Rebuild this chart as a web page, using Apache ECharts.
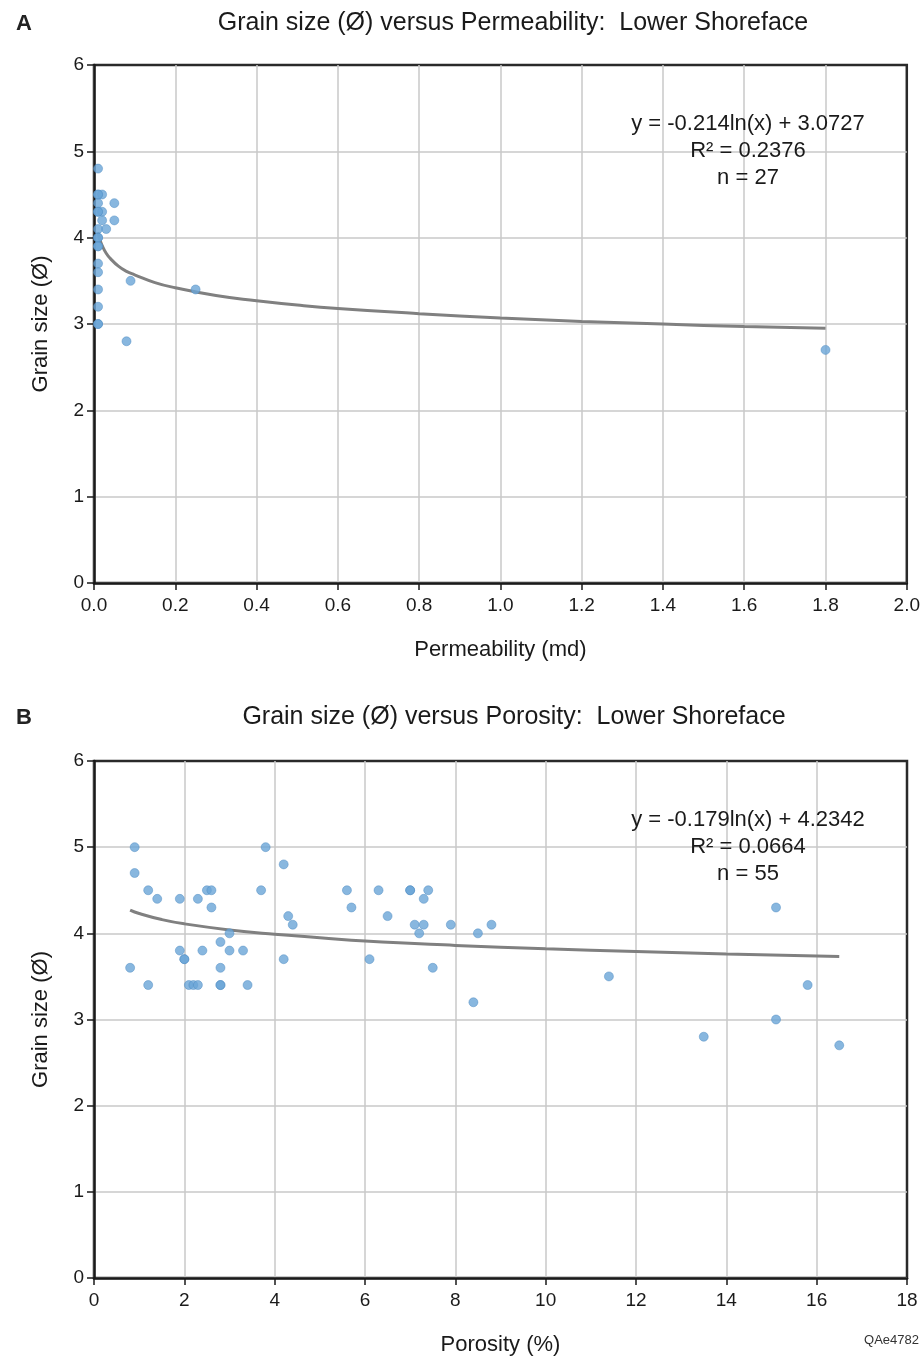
<!DOCTYPE html>
<html>
<head>
<meta charset="utf-8">
<script src="https://cdn.jsdelivr.net/npm/echarts@6/dist/echarts.min.js"></script>
<style>
  html, body { margin: 0; padding: 0; background: #fff; }
  #chart { width: 923px; height: 1357px; }
</style>
</head>
<body>
<div id="chart"></div>
<script>
// A: grain size vs permeability (md), n = 27
const permX = [0.01, 0.01, 0.02, 0.01, 0.05, 0.01, 0.02, 0.02, 0.05, 0.01, 0.03, 0.01, 0.01, 0.01, 0.01, 0.09, 0.01, 0.25, 0.01, 0.01, 0.08, 1.8, 0.01, 0.01, 0.01, 0.01, 0.01]
const permY = [4.8, 4.5, 4.5, 4.4, 4.4, 4.3, 4.3, 4.2, 4.2, 4.1, 4.1, 4.0, 3.9, 3.7, 3.6, 3.5, 3.4, 3.4, 3.2, 3.0, 2.8, 2.7, 4.5, 4.3, 4.0, 3.9, 3.0]
// trendline
const permTrendX = [0.01, 0.015, 0.02, 0.03, 0.04, 0.06, 0.08, 0.1, 0.15, 0.2, 0.3, 0.4, 0.5, 0.6, 0.8, 1.0, 1.2, 1.4, 1.6, 1.8]
const permTrendY = [4.06, 3.97, 3.91, 3.82, 3.76, 3.67, 3.61, 3.57, 3.48, 3.42, 3.33, 3.27, 3.22, 3.18, 3.12, 3.07, 3.03, 3.00, 2.97, 2.95]
const permXTicks = { min: 0, max: 2, interval: 0.2 }

// B: grain size vs porosity (%), n = 55
const poroX = [0.9, 3.8, 4.2, 0.9, 1.2, 1.4, 1.9, 2.3, 2.5, 2.6, 3.7, 2.6, 4.3, 4.4, 3.0, 2.8, 1.9, 2.4, 3.0, 3.3,
  2.0, 4.2, 0.8, 2.8, 1.2, 2.1, 2.2, 2.3, 2.8, 3.4,
  5.6, 6.3, 7.0, 7.4, 7.3, 5.7, 6.5, 7.1, 7.3, 7.9, 8.8, 7.2, 8.5, 6.1, 7.5, 8.4,
  11.4, 15.1, 15.8, 15.1, 13.5, 16.5,
  2.0, 2.8, 7.0]
const poroY = [5.0, 5.0, 4.8, 4.7, 4.5, 4.4, 4.4, 4.4, 4.5, 4.5, 4.5, 4.3, 4.2, 4.1, 4.0, 3.9, 3.8, 3.8, 3.8, 3.8,
  3.7, 3.7, 3.6, 3.6, 3.4, 3.4, 3.4, 3.4, 3.4, 3.4,
  4.5, 4.5, 4.5, 4.5, 4.4, 4.3, 4.2, 4.1, 4.1, 4.1, 4.1, 4.0, 4.0, 3.7, 3.6, 3.2,
  3.5, 4.3, 3.4, 3.0, 2.8, 2.7,
  3.7, 3.4, 4.5]
const poroTrendX = [0.8, 1, 1.5, 2, 3, 4, 5, 6, 8, 10, 12, 14, 16.5]
const poroTrendY = [4.27, 4.23, 4.16, 4.11, 4.04, 3.99, 3.95, 3.91, 3.86, 3.82, 3.79, 3.76, 3.73]
const poroXTicks = { min: 0, max: 18, interval: 2 }

const yTicks = { min: 0, max: 6, interval: 1 }

const FONT = '"Liberation Sans", Arial, sans-serif'
const zip = (xs, ys) => xs.map((x, i) => [x, ys[i]])

const chart = echarts.init(document.getElementById('chart'), null, { renderer: 'canvas' })

function xAxisOf(gridIndex, ticks, name, decimals) {
  return {
    gridIndex: gridIndex,
    type: 'value',
    min: ticks.min, max: ticks.max, interval: ticks.interval,
    name: name,
    nameLocation: 'middle',
    nameGap: 56,
    nameTextStyle: { fontFamily: FONT, fontSize: 22, color: '#1a1a1a' },
    axisLine: { show: true, onZero: false, lineStyle: { color: '#1a1a1a', width: 2.5 } },
    axisTick: { show: true, length: 7, lineStyle: { color: '#1a1a1a', width: 1.5 } },
    axisLabel: {
      fontFamily: FONT, fontSize: 19, color: '#1a1a1a', margin: 13,
      formatter: v => decimals ? v.toFixed(decimals) : String(v)
    },
    splitLine: { show: true, showMaxLine: false, lineStyle: { color: '#c9c9c9', width: 1.5 } }
  }
}

function yAxisOf(gridIndex) {
  return {
    gridIndex: gridIndex,
    type: 'value',
    min: yTicks.min, max: yTicks.max, interval: yTicks.interval,
    name: 'Grain size (Ø)',
    nameLocation: 'middle',
    nameGap: 42,
    nameTextStyle: { fontFamily: FONT, fontSize: 22, color: '#1a1a1a' },
    axisLine: { show: true, onZero: false, lineStyle: { color: '#1a1a1a', width: 2.5 } },
    axisTick: { show: true, length: 7, lineStyle: { color: '#1a1a1a', width: 1.5 } },
    axisLabel: { fontFamily: FONT, fontSize: 19, color: '#1a1a1a', margin: 10 },
    splitLine: { show: true, showMaxLine: false, lineStyle: { color: '#c9c9c9', width: 1.5 } }
  }
}

const dotStyle = { color: '#6aa5d7', borderColor: '#4d8bc2', borderWidth: 0.6 }
const trendStyle = { color: '#808080', width: 3 }

function textBlock(x, y, lines) {
  return lines.map((t, i) => ({
    type: 'text',
    x: x, y: y + i * 27,
    z: 100,
    style: { text: t, fontFamily: FONT, fontSize: 22, fill: '#1a1a1a', align: 'center', verticalAlign: 'middle' }
  }))
}

const option = {
  backgroundColor: '#ffffff',
  animation: false,
  title: [
    { text: 'A', left: 11, top: 8, textStyle: { fontFamily: FONT, fontSize: 22, fontWeight: 'bold', color: '#222' } },
    { text: 'Grain size (Ø) versus Permeability:  Lower Shoreface', left: 508, top: 6, textAlign: 'center',
      textStyle: { fontFamily: FONT, fontSize: 25, fontWeight: 'normal', color: '#1a1a1a' } },
    { text: 'B', left: 11, top: 702, textStyle: { fontFamily: FONT, fontSize: 22, fontWeight: 'bold', color: '#222' } },
    { text: 'Grain size (Ø) versus Porosity:  Lower Shoreface', left: 509, top: 700, textAlign: 'center',
      textStyle: { fontFamily: FONT, fontSize: 25, fontWeight: 'normal', color: '#1a1a1a' } }
  ],
  grid: [
    { left: 94, top: 65, width: 813, height: 518, show: true, borderColor: '#2a2a2a', borderWidth: 2.5, backgroundColor: 'transparent' },
    { left: 94, top: 761, width: 813, height: 520, show: true, borderColor: '#2a2a2a', borderWidth: 2.5, backgroundColor: 'transparent' }
  ],
  xAxis: [
    xAxisOf(0, permXTicks, 'Permeability (md)', 1),
    xAxisOf(1, poroXTicks, 'Porosity (%)', 0)
  ],
  yAxis: [yAxisOf(0), yAxisOf(1)],
  series: [
    { type: 'line', xAxisIndex: 0, yAxisIndex: 0, data: zip(permTrendX, permTrendY), smooth: true,
      showSymbol: false, lineStyle: trendStyle, z: 2 },
    { type: 'scatter', xAxisIndex: 0, yAxisIndex: 0, data: zip(permX, permY), symbolSize: 9,
      itemStyle: dotStyle, z: 3 },
    { type: 'line', xAxisIndex: 1, yAxisIndex: 1, data: zip(poroTrendX, poroTrendY), smooth: true,
      showSymbol: false, lineStyle: trendStyle, z: 2 },
    { type: 'scatter', xAxisIndex: 1, yAxisIndex: 1, data: zip(poroX, poroY), symbolSize: 9,
      itemStyle: dotStyle, z: 3 }
  ],
  graphic: [
    ...textBlock(748, 124, ['y = -0.214ln(x) + 3.0727', 'R² = 0.2376', 'n = 27']),
    ...textBlock(748, 820, ['y = -0.179ln(x) + 4.2342', 'R² = 0.0664', 'n = 55']),
    { type: 'text', x: 919, y: 1340,
      style: { text: 'QAe4782', fontFamily: FONT, fontSize: 13, fill: '#333', align: 'right', verticalAlign: 'middle' } }
  ]
}

chart.setOption(option)
</script>
</body>
</html>
